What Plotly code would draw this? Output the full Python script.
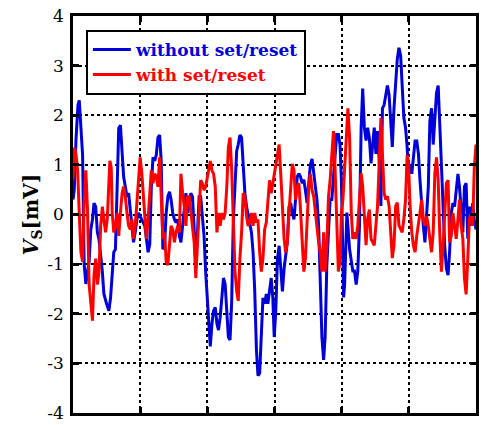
import plotly.graph_objects as go

# Time axis (s) and output voltage (mV) for both sensor runs
t_without = [0.0, 0.19, 0.44, 0.74, 0.93, 1.18, 1.43, 1.66, 1.91, 2.16, 2.40, 2.65, 2.90, 3.13, 3.38, 3.63, 3.87,
             4.37, 4.60, 5.00, 5.34, 5.59, 5.84, 6.07, 6.32, 6.57, 6.81, 7.06, 7.31, 7.54, 7.79, 8.04, 8.28, 8.53,
             8.78, 9.01, 9.26, 9.51, 9.75, 10.19, 10.69, 11.18, 11.43, 11.66, 11.91, 12.16, 12.40, 12.65, 12.90,
             13.13, 13.38, 13.63, 13.87, 14.12, 14.37, 14.60, 14.85, 15.10, 15.34, 15.59, 15.84, 16.07, 16.32,
             16.57, 16.81, 17.06, 17.31, 17.54, 17.79, 18.04, 18.28, 18.53, 18.78, 19.01, 19.26, 19.51, 19.75,
             20.00, 20.19, 20.44, 20.69, 20.93, 21.18, 21.43, 21.66, 21.91, 22.16, 22.40, 22.65, 22.90, 23.13,
             23.38, 23.63, 23.87, 24.12, 24.37, 24.60, 24.85, 25.10, 25.34, 25.59, 25.84, 26.07, 26.32, 26.57,
             26.81, 27.06, 27.31, 27.54, 27.79, 28.04, 28.28, 28.53, 28.78, 29.01, 29.26, 29.51, 29.75, 29.96,
             30.19, 30.44, 30.69, 30.93, 31.18, 31.43, 31.66, 31.91, 32.16, 32.40, 32.65, 32.90, 33.13, 33.38,
             33.63, 33.87, 34.12, 34.37, 34.60, 34.85, 35.10, 35.34, 35.59, 35.84, 36.07, 36.32, 36.57, 36.81,
             37.06, 37.31, 37.54, 37.79, 38.04, 38.28, 38.53, 38.78, 39.01, 39.26, 39.51, 39.75, 39.96, 40.10,
             40.29, 40.44, 40.59, 40.78, 41.18, 41.66, 41.91, 42.16, 42.40, 42.65, 42.90, 43.13, 43.38, 43.63,
             43.87, 44.12, 44.37, 44.60, 44.85, 45.10, 45.34, 45.59, 45.84, 46.07, 46.32, 46.57, 46.81, 47.06,
             47.31, 47.54, 47.79, 48.04, 48.28, 48.53, 48.78, 49.01, 49.26, 49.51, 49.75, 49.96, 50.19, 50.44,
             50.69, 50.93, 51.18, 51.43, 51.66, 51.91, 52.16, 52.40, 52.65, 52.90, 53.13, 53.38, 53.63, 53.87,
             54.12, 54.37, 54.60, 54.85, 55.10, 55.34, 55.59, 55.84, 56.07, 56.32, 56.57, 56.81, 57.06, 57.31,
             57.54, 57.79, 58.04, 58.28, 58.53, 58.78, 59.01, 59.26, 59.51, 59.75, 60.0]
v_without = [0.3, 0.5, 1.5, 2.2, 2.3, 1.6, 1.2, -1.0, -1.4, -1.15, -0.95, -0.3, -0.1, 0.23, 0.16, -0.36, -0.5,
             -1.15, -1.6, -1.8, -1.94, -1.68, -1.15, -0.76, -0.7, 0.56, 1.74, 1.8, 1.28, 0.76, 0.56, 0.36, 0.43,
             0.03, -0.36, -0.56, -0.36, -0.1, 0.03, -0.1, -0.23, -0.76, -0.6, 0.56, 1.15, 1.08, 1.2, 1.55, 1.6,
             1.08, -0.7, -0.63, 0.03, 0.36, 0.46, 0.3, 0.03, -0.1, -0.16, -0.1, -0.43, -0.56, -0.23, 0.23, 0.43,
             0.03, 0.3, 0.43, 0.36, -0.36, -0.95, -0.36, 0.36, 0.36, 0.03, -0.43, -1.15, -1.74, -2.3, -2.66,
             -2.2, -1.94, -1.87, -2.2, -2.33, -2.07, -1.68, -1.28, -1.4, -1.94, -2.47, -2.53, -1.74, -0.1, 0.7,
             1.28, 1.41, 1.6, 1.55, 1.0, 0.43, 0.16, -0.03, -0.16, -0.36, -0.76, -1.55, -2.73, -3.25, -3.2,
             -2.53, -1.68, -1.8, -1.6, -1.8, -1.48, -1.28, -1.68, -2.47, -1.94, -0.89, -0.63, -1.15, -1.55,
             -1.09, -0.82, -0.56, 0.16, 0.23, 0.03, -0.1, 0.3, 0.76, 0.82, 0.76, 0.63, 0.7, 0.49, 0.23, 0.63,
             1.0, 1.12, 0.82, 0.63, 0.3, -0.23, -1.15, -2.47, -2.93, -2.47, -1.02, -0.23, 0.3, 0.3, 0.7, 1.22,
             1.61, 1.61, 1.41, 0.7, -0.55, -1.67, -1.41, -0.49, 0.04, -0.7, -1.14, -1.14, -1.41, -1.14, -0.22,
             1.75, 2.54, 1.75, 1.49, 1.75, 1.55, 1.03, 1.36, 1.75, 1.22, 1.68, 1.09, 0.17, 2.14, 2.21, 2.41,
             2.6, 2.41, 1.95, 1.36, 2.14, 2.74, 3.13, 3.36, 3.2, 2.6, 1.95, 1.75, 1.36, 0.82, 1.02, 0.82, 1.22,
             1.48, 1.48, 1.22, 0.69, 0.16, -0.23, -0.56, -0.1, 0.56, 1.88, 2.14, 1.41, 1.88, 2.45, 2.6, 1.74,
             0.95, -0.1, -0.63, -1.09, -1.22, -0.76, 0.03, 0.23, 0.16, 0.49, 0.82, 0.56, 0.03, -0.36, 0.56,
             0.63, -0.49, 0.16, -0.23, 0.23, -0.1, -0.3]

t_with = [0.0, 0.19, 0.44, 0.69, 0.93, 1.18, 1.43, 1.66, 1.91, 2.16, 2.40, 2.65, 2.90, 3.13, 3.38, 3.63, 3.87,
          4.12, 4.37, 4.60, 4.85, 5.10, 5.34, 5.49, 5.69, 5.84, 6.07, 6.32, 6.57, 6.81, 7.06, 7.31, 7.54, 7.79,
          8.04, 8.28, 8.53, 8.78, 9.01, 9.26, 9.51, 9.75, 10.00, 10.25, 10.49, 10.74, 10.93, 11.18, 11.43,
          11.66, 11.91, 12.16, 12.40, 12.65, 12.90, 13.13, 13.38, 13.63, 13.87, 14.12, 14.37, 14.60, 14.85,
          15.10, 15.34, 15.59, 15.84, 16.07, 16.32, 16.57, 16.81, 17.06, 17.31, 17.54, 17.79, 18.04, 18.28,
          18.53, 18.78, 19.01, 19.26, 19.51, 19.75, 20.00, 20.19, 20.44, 20.69, 20.93, 21.18, 21.43, 21.66,
          21.91, 22.16, 22.40, 22.65, 22.90, 23.13, 23.38, 23.63, 23.87, 24.12, 24.37, 24.60, 24.85, 25.10,
          25.34, 25.59, 25.84, 26.07, 26.32, 26.57, 26.81, 27.06, 27.31, 27.54, 27.79, 28.04, 28.28, 28.53,
          28.78, 29.01, 29.26, 29.51, 29.75, 29.96, 30.19, 30.44, 30.69, 30.93, 31.18, 31.43, 31.66, 31.91,
          32.16, 32.40, 32.65, 32.90, 33.13, 33.38, 33.63, 33.87, 34.12, 34.37, 34.60, 34.85, 35.10, 35.34,
          35.59, 35.84, 36.07, 36.32, 36.57, 36.81, 37.06, 37.31, 37.54, 37.79, 38.04, 38.28, 38.53, 38.78,
          39.01, 39.26, 39.51, 39.75, 39.96, 40.19, 40.44, 40.69, 40.93, 41.18, 41.43, 41.66, 41.91, 42.16,
          42.40, 42.65, 42.90, 43.13, 43.38, 43.63, 43.87, 44.12, 44.37, 44.60, 44.85, 45.10, 45.34, 45.59,
          45.84, 46.07, 46.32, 46.57, 46.81, 47.06, 47.31, 47.54, 47.79, 48.04, 48.28, 48.53, 48.78, 49.01,
          49.26, 49.51, 49.75, 49.96, 50.19, 50.44, 50.69, 50.93, 51.18, 51.43, 51.66, 51.91, 52.16, 52.40,
          52.65, 52.90, 53.13, 53.38, 53.63, 53.87, 54.12, 54.37, 54.60, 54.85, 55.10, 55.34, 55.59, 55.84,
          56.07, 56.32, 56.57, 56.81, 57.06, 57.31, 57.54, 57.79, 58.04, 58.28, 58.53, 58.78, 59.01, 59.26,
          59.51, 59.75, 60.0]
v_with = [0.7, 1.35, 1.22, 0.89, 0.03, -0.76, -0.95, 0.23, 0.89, 0.1, -1.41, -1.8, -2.14, -1.22, -0.89, -1.41,
          -1.15, -0.23, 0.16, -0.1, -0.36, -0.1, 0.56, 1.08, 0.95, 0.03, -0.36, -0.23, 0.03, -0.43, 0.03, 0.43,
          0.56, 0.36, 0.03, -0.23, -0.3, -0.1, -0.49, -0.23, 0.23, 0.69, 1.15, 0.82, 0.36, -0.3, -0.49, -0.1,
          0.43, 0.89, 0.63, 0.82, 0.76, 0.56, 1.15, 0.23, -0.49, -0.36, -0.95, -1.02, -0.56, -0.23, -0.3, -0.56,
          -0.36, -0.23, -0.36, 0.82, 0.43, 0.16, -0.23, 0.36, 0.36, 0.03, -0.23, -0.56, -1.28, -0.63, 0.23,
          0.69, 0.63, 0.49, 0.56, 0.76, 0.95, 1.08, 0.89, 0.82, 0.56, -0.36, 0.03, -0.23, 0.03, -0.1, 0.03,
          0.56, 1.35, 1.55, 0.89, -0.23, -1.15, -1.55, -1.74, -0.89, -0.36, 0.43, 0.36, -0.03, -0.23, -0.16,
          0.03, -0.23, 0.03, -0.16, -0.1, -0.76, -1.15, -0.89, -0.3, -0.16, 0.3, 0.69, 0.43, 0.63, 0.82, 1.08,
          1.22, 1.41, 0.82, 0.23, -0.49, -0.76, -0.56, 0.03, 0.63, 1.02, 0.89, 0.3, 0.56, 0.63, 0.1, -0.56,
          -1.15, -0.89, -0.23, 0.56, 0.82, 0.49, 0.36, 0.03, -0.36, -0.56, -0.76, -1.15, -0.36, -1.15, -0.63,
          0.36, 0.69, 1.22, 1.68, 0.95, -0.36, -1.15, -0.95, 0.04, 0.3, 0.96, 1.68, 2.14, 1.55, 0.04, -0.49,
          -0.36, -0.49, -0.22, 0.3, 0.83, 0.57, 0.04, -0.62, -0.09, 0.1, -0.49, -0.55, -0.62, -0.22, 0.17, 1.03,
          1.95, 1.22, 0.43, 0.3, 0.37, 0.17, -0.36, -0.88, -0.62, 0.17, 0.24, -0.22, -0.29, -0.36, -0.09, 0.3,
          1.2, 1.0, 0.16, -0.36, -0.63, -0.76, -0.43, -0.23, 0.03, 0.3, -0.1, -0.23, -0.03, -0.23, -0.49, -0.76,
          -0.36, 0.82, 1.15, 0.69, -0.36, -1.15, -0.63, 0.03, 0.63, 0.69, -0.56, -0.43, 0.03, -0.23, -0.49,
          -0.1, 0.3, -0.23, -0.49, -1.28, -1.61, -0.89, -0.1, 0.03, -0.23, 0.95, 1.41]

y_ticks = [-4, -3, -2, -1, 0, 1, 2, 3, 4]
y_tick_text = ["-4", "-3", "-2", "-1", "0", "1", "2", "3", "4"]
x_ticks = [0, 10, 20, 30, 40, 50, 60]

SERIF = "DejaVu Serif"
BLUE = "#0000D8"
RED = "#FF0000"

fig = go.Figure()
fig.add_trace(go.Scatter(x=t_without, y=v_without, mode="lines",
                         name=f"<b><span style='color:{BLUE}'>without set/reset</span></b>",
                         line=dict(color=BLUE, width=3)))
fig.add_trace(go.Scatter(x=t_with, y=v_with, mode="lines",
                         name=f"<b><span style='color:{RED}'>with set/reset</span></b>",
                         line=dict(color=RED, width=3)))

axis_common = dict(
    showline=True, linecolor="black", linewidth=2.5, mirror="ticks",
    ticks="inside", ticklen=6, tickwidth=2.5, tickcolor="black",
    showgrid=True, gridcolor="black", gridwidth=1.5, griddash="dot",
    zeroline=False,
)

fig.update_xaxes(range=[0, 60], tickvals=x_ticks, showticklabels=False, **axis_common)
fig.update_yaxes(range=[-4, 4], tickvals=y_ticks, ticktext=y_tick_text,
                 tickfont=dict(family=SERIF, size=17, color="black"),
                 ticklabelstandoff=3, ticklabeloverflow="allow",
                 title=dict(text="<b><i>V</i><sub>S</sub>[mV]</b>",
                            font=dict(family=SERIF, size=20, color="black"),
                            standoff=4),
                 **axis_common)

fig.update_layout(
    width=481, height=425,
    margin=dict(l=73, r=2, t=16, b=6),
    plot_bgcolor="white", paper_bgcolor="white",
    showlegend=True,
    legend=dict(x=0.032, y=0.965, xanchor="left", yanchor="top",
                bgcolor="white", bordercolor="black", borderwidth=2,
                font=dict(family=SERIF, size=17, color="black"),
                itemwidth=38, tracegroupgap=0),
)

fig.write_html("out.html")
